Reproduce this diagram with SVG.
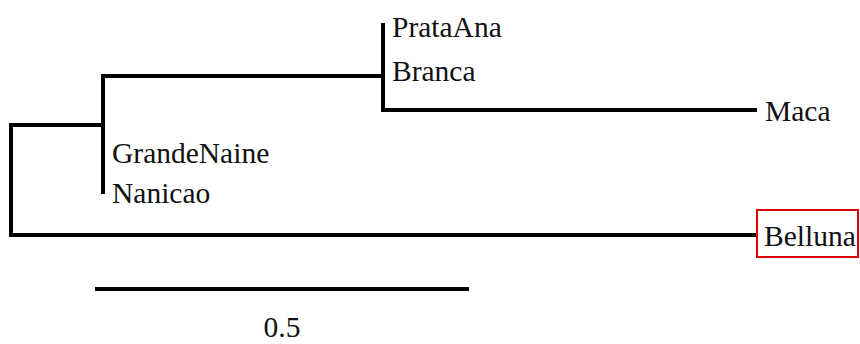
<svg xmlns="http://www.w3.org/2000/svg" width="860" height="344" viewBox="0 0 860 344">
<style>
.br{fill:none;stroke:#000;stroke-width:4;stroke-linejoin:miter;stroke-linecap:square}
.lb{font-family:"Liberation Serif","Times New Roman",serif;font-size:29.5px;fill:#111}
</style>
<rect width="860" height="344" fill="#fff"/>
<g id="connectors">
<polyline class="br" points="103,125 11,125 11,235 755,235"/>
<polyline class="br" points="383,76 103,76 103,192"/>
<polyline class="br" points="383,25 383,110 755,110"/>
<line class="br" x1="97" y1="289" x2="467" y2="289" stroke-linecap="butt"/>
</g>
<g id="PrataAna"><text class="lb" x="392" y="37">PrataAna</text></g>
<g id="Branca"><text class="lb" x="392" y="81">Branca</text></g>
<g id="Maca"><text class="lb" x="765" y="121">Maca</text></g>
<g id="GrandeNaine"><text class="lb" x="112" y="163">GrandeNaine</text></g>
<g id="Nanicao"><text class="lb" x="112" y="203">Nanicao</text></g>
<g id="Belluna"><rect x="757" y="210" width="101" height="47" fill="none" stroke="#e00000" stroke-width="2"/><text class="lb" x="764" y="246">Belluna</text></g>
<g id="scale"><text class="lb" x="282" y="337" text-anchor="middle">0.5</text></g>
</svg>
